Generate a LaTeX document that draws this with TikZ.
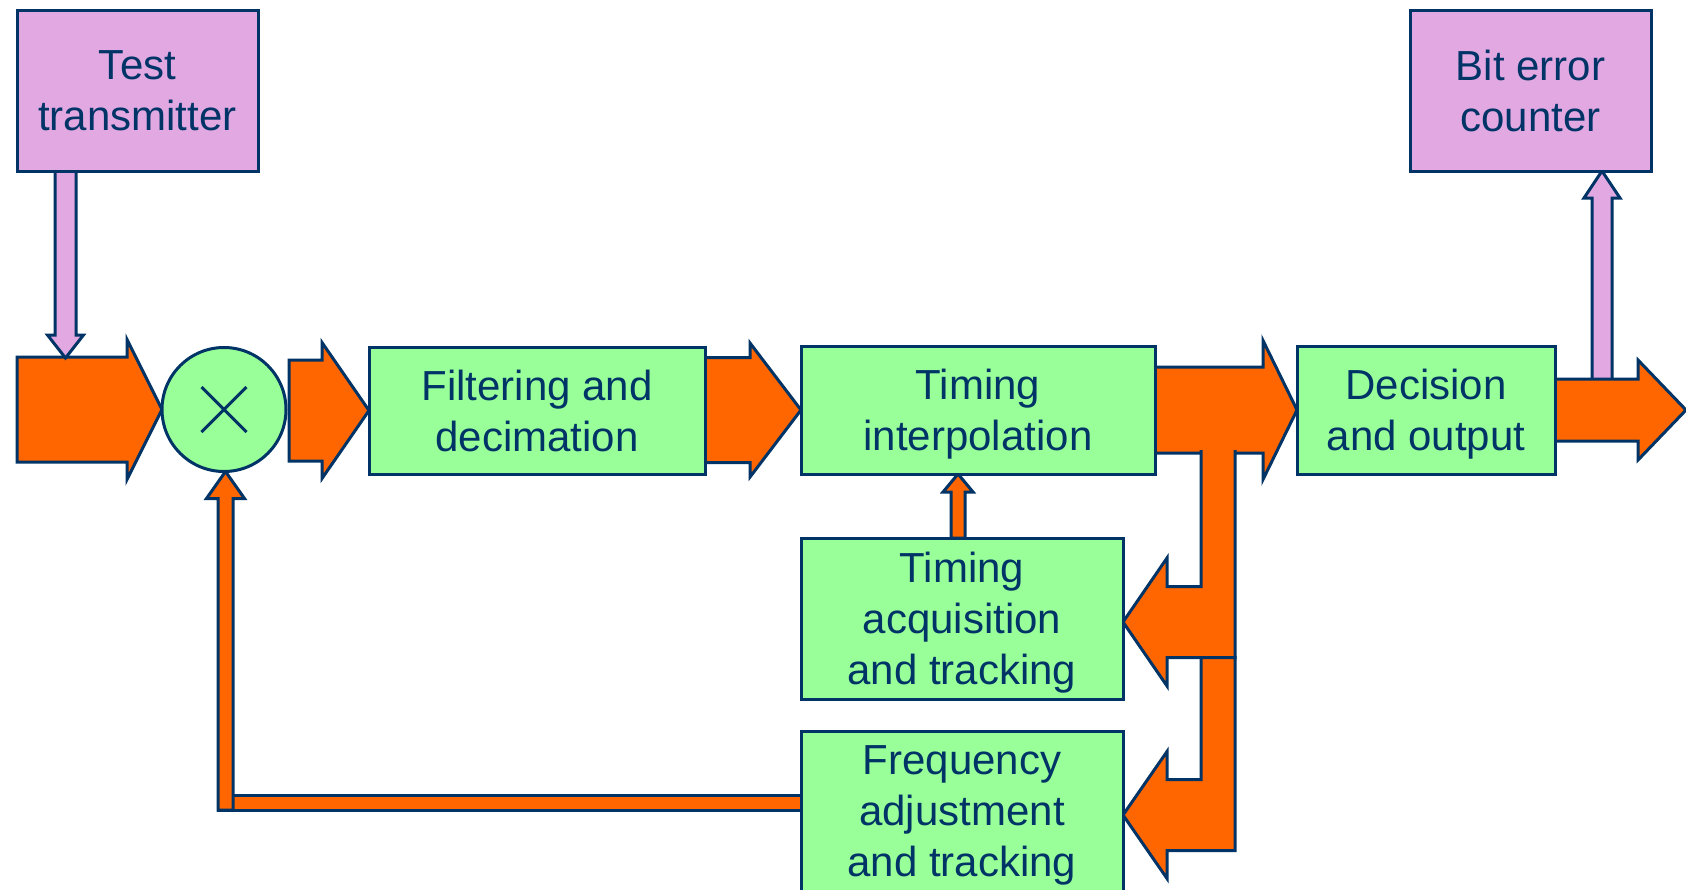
\documentclass[tikz,border=0pt]{standalone}
\usepackage{fontspec}
\setmainfont{Liberation Sans}
\usetikzlibrary{calc,backgrounds}

\definecolor{navy}{HTML}{003366}
\definecolor{flow}{HTML}{FF6600}
\definecolor{stage}{HTML}{99FF99}
\definecolor{testfill}{HTML}{E1A8E1}

\tikzset{
  box/.style={rectangle, draw=navy, line width=3pt, fill=stage, outer sep=0pt,
    inner sep=0pt, text=navy, align=center, text depth=0pt,
    font=\fontsize{42}{51}\selectfont},
  testunit/.style={box, fill=testfill},
  bigarrow/.style={draw=navy, line width=3pt, fill=flow, line join=miter},
  pinkarrow/.style={bigarrow, fill=testfill},
}

% block arrow pointing right: [style]{from}{tip}{head length}{body half}{head half}
\newcommand\arrowright[6][]{%
  \path[bigarrow,#1] let \p1=(#2), \p2=(#3) in
    (\x1,\y2+#5pt) -- (\x2-#4pt,\y2+#5pt) -- (\x2-#4pt,\y2+#6pt) -- (\x2,\y2)
    -- (\x2-#4pt,\y2-#6pt) -- (\x2-#4pt,\y2-#5pt) -- (\x1,\y2-#5pt) -- cycle;}
% block arrow pointing up (canvas +y)
\newcommand\arrowup[6][]{%
  \path[bigarrow,#1] let \p1=(#2), \p2=(#3) in
    (\x1-#5pt,\y1) -- (\x1-#5pt,\y2-#4pt) -- (\x1-#6pt,\y2-#4pt) -- (\x1,\y2)
    -- (\x1+#6pt,\y2-#4pt) -- (\x1+#5pt,\y2-#4pt) -- (\x1+#5pt,\y1) -- cycle;}
% block arrow pointing down (canvas -y)
\newcommand\arrowdown[6][]{%
  \path[bigarrow,#1] let \p1=(#2), \p2=(#3) in
    (\x1-#5pt,\y1) -- (\x1-#5pt,\y2+#4pt) -- (\x1-#6pt,\y2+#4pt) -- (\x1,\y2)
    -- (\x1+#6pt,\y2+#4pt) -- (\x1+#5pt,\y2+#4pt) -- (\x1+#5pt,\y1) -- cycle;}

\begin{document}
\begin{tikzpicture}[x=1pt,y=-1pt]
\useasboundingbox (0,0) rectangle (1686,889);

% blocks
\node[testunit, minimum width=241pt, minimum height=161pt] (tx) at (137.5,90.5) {Test\\transmitter};
\node[testunit, minimum width=241pt, minimum height=161pt] (ber) at (1530.5,90.5) {Bit error\\counter};
\node[box, circle, minimum size=124pt] (mix) at (224,409.5) {};
\draw[navy, line width=3pt] ($(mix.center)+(-22.5,-22.5)$) -- ($(mix.center)+(22.5,22.5)$)
  ($(mix.center)+(-22.5,22.5)$) -- ($(mix.center)+(22.5,-22.5)$);
\node[box, minimum width=336pt, minimum height=127pt] (filt) at (537,410.5) {Filtering and\\decimation};
\node[box, minimum width=354pt, minimum height=128pt] (interp) at (978,410) {Timing\\interpolation};
\node[box, minimum width=258pt, minimum height=128pt] (dec) at (1426,410) {Decision\\and output};
\node[box, minimum width=322pt, minimum height=161pt] (acq) at (962,618.5) {Timing\\acquisition\\and tracking};
\node[box, minimum width=322pt, minimum height=161pt] (freq) at (962,811.5) {Frequency\\adjustment\\and tracking};

% free ends and taps
\coordinate (in) at (17,410);
\coordinate (out) at (1686,410);
\coordinate (txdrop) at (65.5,358);
\coordinate (bertap) at (1602,380);
\coordinate (mixout) at ($(mix.east)+(3,0)$);
\coordinate (acqtap) at ($(acq.north)+(-4,0)$);
\coordinate (acqin) at ($(acq.east)+(0,3.5)$);
\coordinate (freqin) at ($(freq.east)+(0,3.5)$);
\coordinate (fbcorner) at (225.5,802.5);
\coordinate (fbfoot) at (225.5,810);

\begin{pgfonlayer}{background}
  % main signal path
  \arrowright{in}{mix.west}{35}{52.5}{70}
  \arrowright{mixout}{filt.west}{47}{50.5}{68}
  \arrowright{filt.east}{interp.west}{51}{52.5}{67}
  \arrowright{interp.east}{dec.west}{34}{43}{69.5}
  \arrowdown[pinkarrow]{tx.south -| txdrop}{txdrop}{23}{10.5}{18}
  \arrowup[pinkarrow]{bertap}{ber.south -| bertap}{27}{10}{18}
  \arrowright{dec.east}{out}{48}{31}{50}

  % branch down to the timing loop
  \filldraw[bigarrow] let \p1=(interp.east), \p2=(acqin) in
    (\x1+80pt,\y1-40pt) -- (\x1+80pt,\y2-35.5pt) -- (\x2+44pt,\y2-35.5pt)
    -- (\x2+44pt,\y2-64pt) -- (\x2,\y2) -- (\x2+44pt,\y2+64pt)
    -- (\x2+44pt,\y2+35.5pt) -- (\x1+46pt,\y2+35.5pt) -- (\x1+46pt,\y1-40pt);
  % branch down to the frequency loop
  \path[bigarrow] let \p1=(interp.east), \p2=(acqin), \p3=(freqin) in
    (\x1+80pt,\y2-35.5pt) -- (\x1+80pt,\y3-35.5pt) -- (\x3+44pt,\y3-35.5pt)
    -- (\x3+44pt,\y3-63.5pt) -- (\x3,\y3) -- (\x3+44pt,\y3+63.5pt)
    -- (\x3+44pt,\y3+35.5pt) -- (\x1+46pt,\y3+35.5pt) -- (\x1+46pt,\y2-35.5pt) -- cycle;

  % timing correction into the interpolator
  \arrowup{acqtap}{interp.south -| acqtap}{18}{7}{15}

  % frequency correction back to the mixer
  \path[bigarrow] ($(fbcorner)+(-7.5,-7.5)$) rectangle ($(freq.west |- fbcorner)+(0,7.5)$);
  \arrowup{fbfoot}{mix.south -| fbfoot}{27}{7.5}{19}
\end{pgfonlayer}
\end{tikzpicture}
\end{document}
